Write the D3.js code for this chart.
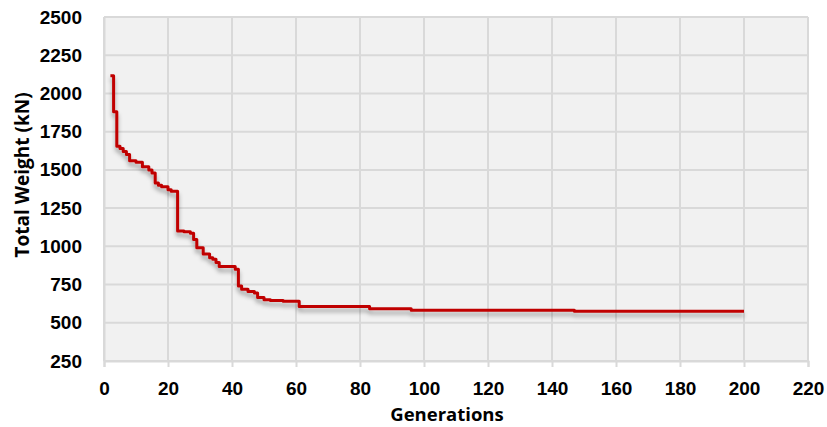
<!DOCTYPE html>
<html>
<head>
<meta charset="utf-8">
<script src="https://cdn.jsdelivr.net/npm/d3@7"></script>
<style>
  html, body { margin: 0; padding: 0; background: #ffffff; }
  svg { display: block; font-family: "Open Sans", "Noto Sans", sans-serif; }
</style>
</head>
<body>
<script>
// Best total weight found so far, recorded at the generations where it improved
const generations = [2, 3, 4, 5, 6, 7, 8, 10, 12, 14, 15, 16, 17, 18, 20, 21, 23, 25, 27, 28, 29, 31, 33, 34, 35, 36, 41, 42, 43, 45, 47, 48, 50, 52, 56, 61, 83, 96, 147, 200];
const bestWeight  = [2115, 1880, 1655, 1640, 1620, 1600, 1560, 1550, 1520, 1500, 1480, 1415, 1400, 1390, 1370, 1360, 1100, 1095, 1085, 1045, 990, 950, 925, 915, 895, 868, 850, 740, 720, 705, 695, 665, 650, 645, 640, 607, 592, 582, 576, 576];

const xTicks = [0, 20, 40, 60, 80, 100, 120, 140, 160, 180, 200, 220];
const yTicks = [250, 500, 750, 1000, 1250, 1500, 1750, 2000, 2250, 2500];

const W = 827, H = 427;
const plot = { left: 104, right: 808, top: 17, bottom: 361 };

const svg = d3.select("body").append("svg")
  .attr("width", W).attr("height", H);

const x = d3.scaleLinear().domain([0, 220]).range([plot.left, plot.right]);
const y = d3.scaleLinear().domain([250, 2500]).range([plot.bottom, plot.top]);

// soft shadow under the series line
const defs = svg.append("defs");
const f = defs.append("filter").attr("id", "lineShadow")
  .attr("x", "-5%").attr("y", "-10%").attr("width", "110%").attr("height", "130%");
f.append("feDropShadow").attr("dx", 0).attr("dy", 4).attr("stdDeviation", 2.2)
  .attr("flood-color", "#000").attr("flood-opacity", 0.33);

// plot background
svg.append("rect")
  .attr("x", plot.left).attr("y", plot.top)
  .attr("width", plot.right - plot.left).attr("height", plot.bottom - plot.top)
  .attr("fill", "#f1f1f1");

const gridColor = "#d9d9d9";

// horizontal gridlines
svg.append("g").selectAll("line").data(yTicks).join("line")
  .attr("x1", plot.left).attr("x2", plot.right)
  .attr("y1", d => y(d)).attr("y2", d => y(d))
  .attr("stroke", gridColor).attr("stroke-width", 2);

// vertical gridlines
svg.append("g").selectAll("line").data(xTicks).join("line")
  .attr("x1", d => x(d)).attr("x2", d => x(d))
  .attr("y1", plot.top).attr("y2", plot.bottom)
  .attr("stroke", gridColor).attr("stroke-width", 2);

// x axis
const xAxis = svg.append("g")
  .attr("transform", `translate(0,${plot.bottom})`)
  .call(d3.axisBottom(x).tickValues(xTicks).tickSize(6).tickPadding(15).tickFormat(d3.format("d")));
xAxis.select(".domain").attr("stroke", gridColor).attr("stroke-width", 2);
xAxis.selectAll(".tick line").attr("stroke", gridColor).attr("stroke-width", 2);
xAxis.selectAll("text")
  .attr("fill", "#000").style("font-size", "19px").style("font-weight", 700);

// y axis
const yAxis = svg.append("g")
  .attr("transform", `translate(${plot.left},0)`)
  .call(d3.axisLeft(y).tickValues(yTicks).tickSize(0).tickPadding(22).tickFormat(d3.format("d")));
yAxis.select(".domain").attr("stroke", gridColor).attr("stroke-width", 2);
yAxis.selectAll("text")
  .attr("fill", "#000").style("font-size", "19px").style("font-weight", 700);

// series line
const line = d3.line()
  .x((d, i) => x(generations[i]))
  .y(d => y(d))
  .curve(d3.curveStepAfter);

svg.append("path")
  .datum(bestWeight)
  .attr("d", line)
  .attr("fill", "none")
  .attr("stroke", "#c00000")
  .attr("stroke-width", 3)
  .attr("stroke-linejoin", "round")
  .attr("filter", "url(#lineShadow)");

// axis titles
svg.append("text")
  .attr("x", 447).attr("y", 421)
  .attr("text-anchor", "middle")
  .style("font-size", "18.5px").style("font-weight", 700)
  .text("Generations");

svg.append("text")
  .attr("transform", `translate(29,${(plot.top + plot.bottom) / 2 - 14}) rotate(-90)`)
  .attr("text-anchor", "middle")
  .style("font-size", "19px").style("font-weight", 700)
  .text("Total Weight (kN)");
</script>
</body>
</html>
